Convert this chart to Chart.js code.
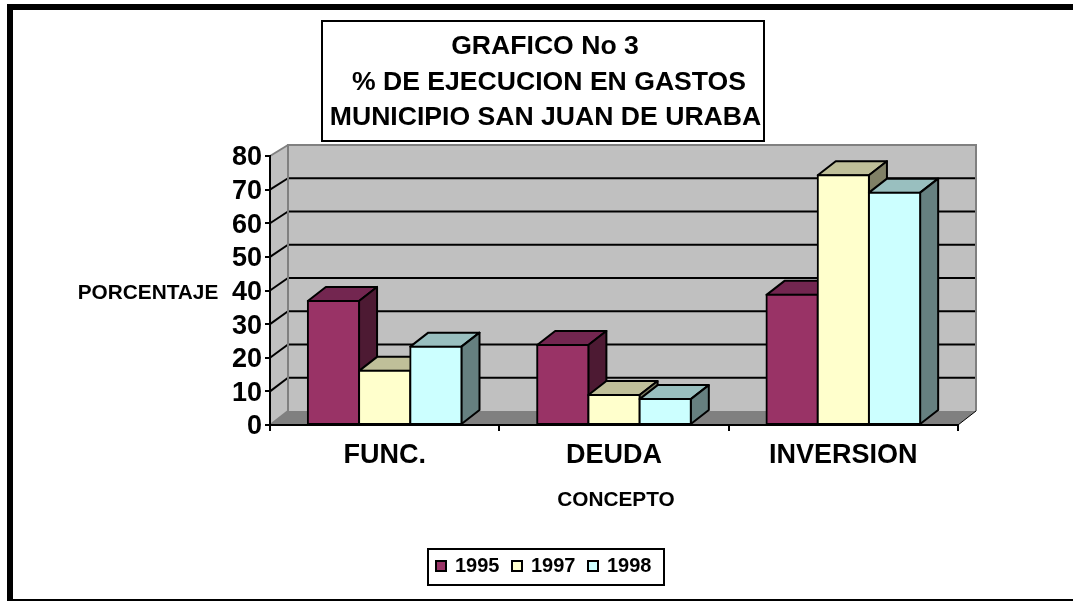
<!DOCTYPE html>
<html><head><meta charset="utf-8">
<style>html,body{margin:0;padding:0;background:#fff;overflow:hidden}#w{width:1073px;height:601px;position:relative}</style>
<script src="https://cdn.jsdelivr.net/npm/chart.js@4"></script>
</head><body><div id="w"><canvas id="c" width="1073" height="601"></canvas></div>
<script>
const categories = ["FUNC.", "DEUDA", "INVERSION"];
const seriesNames = ["1995", "1997", "1998"];
const values1995 = [36.9, 23.8, 38.7];
const values1997 = [16.1, 8.9, 74.3];
const values1998 = [23.3, 7.7, 69.1];
const yTicks = [0, 10, 20, 30, 40, 50, 60, 70, 80];
const titleLines = ["GRAFICO No 3", "% DE EJECUCION EN GASTOS", "MUNICIPIO SAN JUAN DE URABA"];
const yTitle = "PORCENTAJE";
const xTitle = "CONCEPTO";
const frontColors = ["#993366", "#FFFFCC", "#CCFFFF"];
const topColors = ["#732650", "#BFBF99", "#99BFBF"];
const sideColors = ["#4D1A33", "#808066", "#668080"];

const FONT = '"Liberation Sans", Arial, sans-serif';
const DX = 18, DY = 14;
function backOffset(v){ return DY - 3 * v / 80; }
function poly(ctx, pts, fill, stroke, lw){
  ctx.beginPath();
  pts.forEach((p,i)=> i ? ctx.lineTo(p[0],p[1]) : ctx.moveTo(p[0],p[1]));
  ctx.closePath();
  if(fill){ctx.fillStyle=fill;ctx.fill();}
  if(stroke){ctx.strokeStyle=stroke;ctx.lineWidth=lw;ctx.lineJoin='round';ctx.stroke();}
}
function seg(ctx,x1,y1,x2,y2,c,w){ctx.beginPath();ctx.moveTo(x1,y1);ctx.lineTo(x2,y2);ctx.strokeStyle=c;ctx.lineWidth=w;ctx.stroke();}
function text(ctx,s,x,y,size,align){
  ctx.font='bold '+size+'px '+FONT;ctx.fillStyle='#000';ctx.textAlign=align||'center';ctx.textBaseline='middle';ctx.fillText(s,x,y);
}
const scene = {
  id:'scene',
  beforeDraw(chart){
    const ctx=chart.ctx, a=chart.chartArea, ys=chart.scales.y;
    ctx.save();
    ctx.fillStyle='#fff';ctx.fillRect(0,0,1073,601);
    ctx.fillStyle='#000';
    ctx.fillRect(7,4,1066,6);
    ctx.fillRect(7,4,6,597);
    ctx.fillRect(7,599,1066,2);
    const L=a.left,R=a.right,yAt=v=>ys.getPixelForValue(v);
    const bk=v=>yAt(v)-backOffset(v);
    const maxV=yTicks[yTicks.length-1];
    poly(ctx,[[L,yAt(0)],[L+DX,bk(0)],[L+DX,bk(maxV)],[L,yAt(maxV)]],'#C0C0C0');
    poly(ctx,[[L+DX,bk(0)],[R+DX,bk(0)],[R+DX,bk(maxV)],[L+DX,bk(maxV)]],'#C0C0C0');
    poly(ctx,[[L,yAt(0)],[R,yAt(0)],[R+DX,bk(0)],[L+DX,bk(0)]],'#808080');
    yTicks.forEach(v=>{
      if(v===0||v===maxV) return;
      seg(ctx,L,yAt(v),L+DX,bk(v),'#000',2);
      seg(ctx,L+DX,bk(v),R+DX,bk(v),'#000',2);
    });
    seg(ctx,L,yAt(maxV),L+DX,bk(maxV),'#808080',2);
    seg(ctx,L+DX-1,bk(maxV),R+DX+1,bk(maxV),'#808080',2);
    seg(ctx,L+DX,bk(maxV),L+DX,bk(0),'#808080',2);
    seg(ctx,R+DX,bk(maxV),R+DX,bk(0),'#808080',2);
    seg(ctx,L,yAt(0),L+DX,bk(0),'#808080',2);
    seg(ctx,R,yAt(0),R+DX,bk(0),'#000',1);
    ctx.restore();
  },
  beforeDatasetDraw(){ return false; },
  afterDatasetsDraw(chart){
    const ctx=chart.ctx;
    ctx.save();
    chart.data.datasets.forEach((ds,i)=>{
      chart.getDatasetMeta(i).data.forEach(b=>{
        const hw=b.width/2,xl=b.x-hw,xr=b.x+hw,yt=b.y,yb=b.base;
        poly(ctx,[[xl,yt],[xr,yt],[xr+DX,yt-DY],[xl+DX,yt-DY]],topColors[i],'#000',2);
        poly(ctx,[[xr,yt],[xr+DX,yt-DY],[xr+DX,yb-DY],[xr,yb]],sideColors[i],'#000',2);
        b.draw(ctx);
      });
    });
    ctx.restore();
  },
  afterDraw(chart){
    const ctx=chart.ctx;
    ctx.save();
    ctx.fillStyle='#fff';ctx.fillRect(322,21,442,120);
    ctx.strokeStyle='#000';ctx.lineWidth=2;ctx.strokeRect(322,21,442,120);
    text(ctx,titleLines[0],545,46.5,26.6);
    text(ctx,titleLines[1],549,83,26.6);
    text(ctx,titleLines[2],545.5,117.5,26.6);
    text(ctx,yTitle,148,293,20.8);
    text(ctx,xTitle,616,500,20.8);
    ctx.fillStyle='#fff';ctx.fillRect(428,549,236,36);
    ctx.strokeStyle='#000';ctx.lineWidth=2;ctx.strokeRect(428,549,236,36);
    const bx=[436,512,588], tx=[455,531,607];
    seriesNames.forEach((n,i)=>{
      ctx.fillStyle=frontColors[i];ctx.fillRect(bx[i],561,10,10);
      ctx.strokeStyle='#000';ctx.lineWidth=2;ctx.strokeRect(bx[i],561,10,10);
      text(ctx,n,tx[i],566,20,'left');
    });
    ctx.restore();
  }
};
new Chart(document.getElementById('c'),{
  type:'bar',
  data:{labels:categories,datasets:[values1995,values1997,values1998].map((d,i)=>({
    label:seriesNames[i],data:d,backgroundColor:frontColors[i],borderColor:'#000',borderWidth:2,
    borderSkipped:false,inflateAmount:1,clip:false
  }))},
  options:{
    responsive:false,animation:false,
    layout:{padding:{top:156,right:115,bottom:126,left:0}},
    barPercentage:1,categoryPercentage:0.67,
    plugins:{legend:{display:false},title:{display:false},tooltip:{enabled:false}},
    scales:{
      x:{
        afterFit(s){s.height=50;},
        grid:{offset:true,drawOnChartArea:false,drawTicks:true,tickLength:6,color:'#000',lineWidth:2},
        border:{color:'#000',width:2},
        ticks:{color:'#000',font:{family:FONT,size:27,weight:'bold'},padding:8,maxRotation:0}
      },
      y:{
        min:0,max:80,
        afterFit(s){s.width=270;},
        afterBuildTicks(s){s.ticks=yTicks.map(v=>({value:v}));},
        grid:{drawOnChartArea:false,drawTicks:true,tickLength:5,color:'#000',lineWidth:2},
        border:{color:'#000',width:2},
        ticks:{color:'#000',font:{family:FONT,size:27,weight:'bold'},padding:3,labelOffset:2,autoSkip:false}
      }
    }
  },
  plugins:[scene]
});
</script></body></html>
